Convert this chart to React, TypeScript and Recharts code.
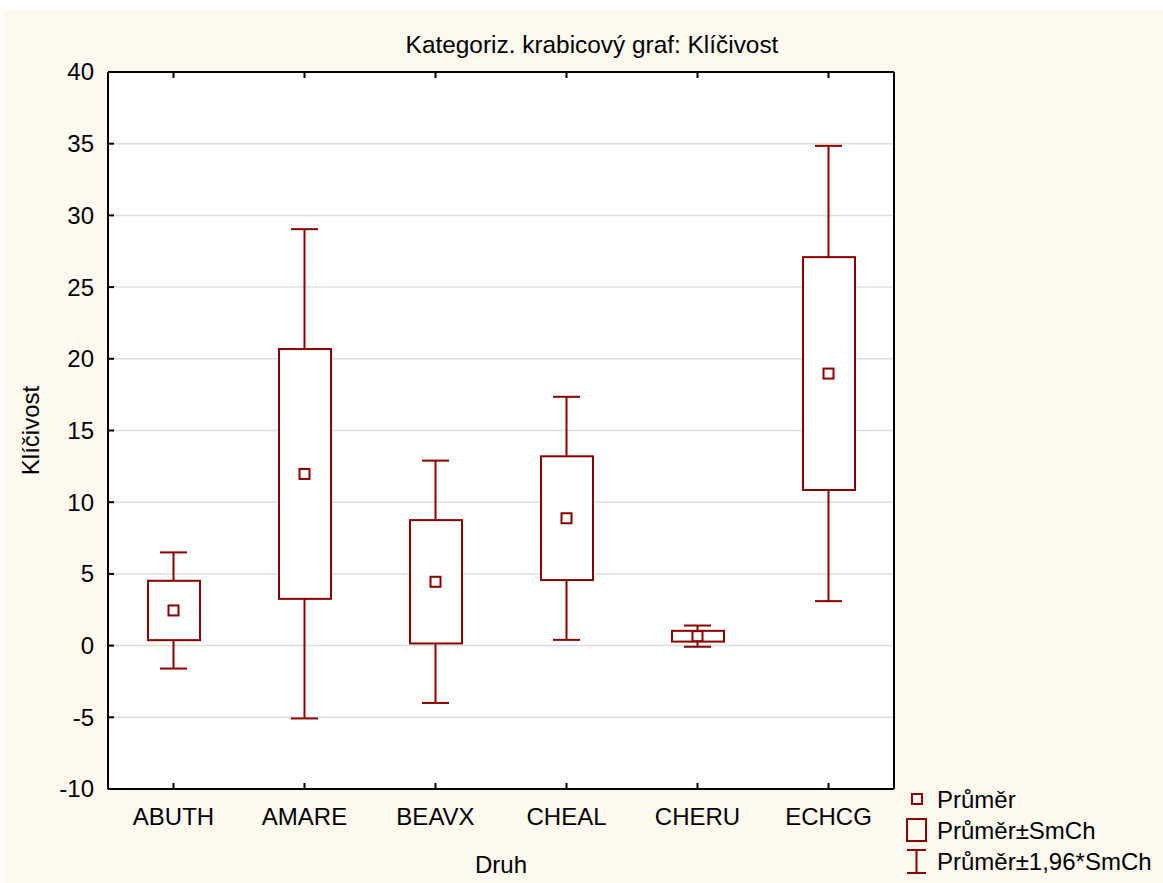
import React from 'react';
import {
  ComposedChart,
  Bar,
  Line,
  XAxis,
  YAxis,
  CartesianGrid,
  Legend,
  Customized,
} from 'recharts';

const species = ['ABUTH', 'AMARE', 'BEAVX', 'CHEAL', 'CHERU', 'ECHCG'];
const means = [2.45, 11.97, 4.45, 8.88, 0.66, 18.97];
const seLow = [0.38, 3.26, 0.15, 4.57, 0.28, 10.85];
const seHigh = [4.52, 20.68, 8.75, 13.2, 1.03, 27.09];
const ciLow = [-1.6, -5.08, -4.0, 0.4, -0.08, 3.1];
const ciHigh = [6.5, 29.04, 12.9, 17.35, 1.4, 34.85];
const yTicks = [-10, -5, 0, 5, 10, 15, 20, 25, 30, 35, 40];

const RED = '#8B0000';
const FONT = '"Liberation Sans", Arial, sans-serif';
const FONT_SIZE = 24;

const data = species.map((name, i) => ({
  name,
  mean: means[i],
  box: [seLow[i], seHigh[i]],
  whisker: [ciLow[i], ciHigh[i]],
}));

const norm = (y: number, h: number) => ({ top: Math.min(y, y + h), h: Math.abs(h) });

// vertical line with a cap at each end
const WhiskerShape = (props: any) => {
  const { x, y, width, height } = props;
  const { top, h } = norm(y, height);
  const cx = x + width / 2;
  return (
    <g stroke={RED} strokeWidth={2} fill="none">
      <line x1={cx} y1={top} x2={cx} y2={top + h} />
      <line x1={x} y1={top} x2={x + width} y2={top} />
      <line x1={x} y1={top + h} x2={x + width} y2={top + h} />
    </g>
  );
};

const BoxShape = (props: any) => {
  const { x, y, width, height } = props;
  const { top, h } = norm(y, height);
  return <rect x={x} y={top} width={width} height={h} fill="#fff" stroke={RED} strokeWidth={2} />;
};

const MeanDot = (props: any) => {
  const { cx, cy, index } = props;
  return (
    <rect key={`m-${index}`} x={cx - 5} y={cy - 5} width={10} height={10} fill="#fff" stroke={RED} strokeWidth={2} />
  );
};

const BottomTick = (props: any) => {
  const { x, y, payload } = props;
  return (
    <g>
      <line x1={x} y1={y} x2={x} y2={y - 6} stroke="#000" strokeWidth={2} />
      <text x={x} y={y + 36} textAnchor="middle" fontFamily={FONT} fontSize={FONT_SIZE} fill="#000">
        {payload.value}
      </text>
    </g>
  );
};

const TopTick = (props: any) => {
  const { x, y } = props;
  return <line x1={x} y1={y} x2={x} y2={y + 6} stroke="#000" strokeWidth={2} />;
};

const LeftTick = (props: any) => {
  const { x, y, payload } = props;
  return (
    <g>
      <line x1={x} y1={y} x2={x + 6} y2={y} stroke="#000" strokeWidth={2} />
      <text x={x - 14} y={y} dy="0.35em" textAnchor="end" fontFamily={FONT} fontSize={FONT_SIZE} fill="#000">
        {payload.value}
      </text>
    </g>
  );
};

const RightTick = (props: any) => {
  const { x, y } = props;
  return <line x1={x} y1={y} x2={x - 6} y2={y} stroke="#000" strokeWidth={2} />;
};

const Title = () => (
  <text x={588} y={43} textAnchor="middle" fontFamily={FONT} fontSize={24.4} fill="#000">
    Kategoriz. krabicový graf: Klíčivost
  </text>
);

const legendRows = [
  { label: 'Průměr', icon: 'mean' },
  { label: 'Průměr±SmCh', icon: 'box' },
  { label: 'Průměr±1,96*SmCh', icon: 'whisker' },
];

const LegendIcon = ({ kind }: { kind: string }) => (
  <svg width={22} height={31} style={{ display: 'block' }}>
    {kind === 'mean' && <rect x={6} y={10} width={10} height={10} fill="none" stroke={RED} strokeWidth={2} />}
    {kind === 'box' && <rect x={1} y={4} width={19} height={22} fill="none" stroke={RED} strokeWidth={2} />}
    {kind === 'whisker' && (
      <g stroke={RED} strokeWidth={2}>
        <line x1={1} y1={4} x2={20} y2={4} />
        <line x1={10.5} y1={4} x2={10.5} y2={27} />
        <line x1={1} y1={27} x2={20} y2={27} />
      </g>
    )}
  </svg>
);

const renderLegend = () => (
  <div style={{ fontFamily: FONT, fontSize: FONT_SIZE, color: '#000' }}>
    {legendRows.map((r) => (
      <div key={r.label} style={{ display: 'flex', alignItems: 'center', height: 31, whiteSpace: 'nowrap' }}>
        <LegendIcon kind={r.icon} />
        <span style={{ marginLeft: 9, lineHeight: '31px' }}>{r.label}</span>
      </div>
    ))}
  </div>
);

export default function App() {
  return (
    <div style={{ position: 'absolute', left: 0, top: 0, width: 1163, height: 883, background: '#fff' }}>
      <div style={{ position: 'absolute', left: 4, top: 10, width: 1159, height: 873, background: '#fdf9ef' }}>
        <ComposedChart
          width={1159}
          height={873}
          data={data}
          margin={{ top: 61, right: 268, bottom: 0, left: 0 }}
        >
          <CartesianGrid
            xAxisId="main"
            yAxisId="main"
            horizontal
            vertical={false}
            stroke="#dedede"
            strokeWidth={1.5}
            fill="#fff"
            fillOpacity={1}
          />
          <XAxis
            dataKey="name"
            xAxisId="main"
            height={94}
            interval={0}
            tickSize={0}
            tickMargin={0}
            tickLine={false}
            axisLine={{ stroke: '#000', strokeWidth: 2 }}
            tick={<BottomTick />}
            label={{
              content: ({ viewBox }: any) => (
                <text
                  x={viewBox.x + viewBox.width / 2}
                  y={viewBox.y + 84}
                  textAnchor="middle"
                  fontFamily={FONT}
                  fontSize={FONT_SIZE}
                  fill="#000"
                >
                  Druh
                </text>
              ),
            }}
          />
          <XAxis
            dataKey="name"
            xAxisId="top"
            orientation="top"
            height={1}
            interval={0}
            tickSize={0}
            tickMargin={0}
            tickLine={false}
            axisLine={{ stroke: '#000', strokeWidth: 2 }}
            tick={<TopTick />}
          />
          <XAxis dataKey="name" xAxisId="whisker" orientation="top" height={0} hide />
          <XAxis dataKey="name" xAxisId="box" orientation="top" height={0} hide />
          <YAxis
            yAxisId="main"
            width={104}
            domain={[-10, 40]}
            ticks={yTicks}
            interval={0}
            tickSize={0}
            tickMargin={0}
            tickLine={false}
            axisLine={{ stroke: '#000', strokeWidth: 2 }}
            tick={<LeftTick />}
            label={{
              content: ({ viewBox }: any) => {
                const cx = viewBox.x + 26;
                const cy = viewBox.y + viewBox.height / 2;
                return (
                  <text
                    x={cx}
                    y={cy}
                    transform={`rotate(-90 ${cx} ${cy})`}
                    textAnchor="middle"
                    dominantBaseline="central"
                    fontFamily={FONT}
                    fontSize={FONT_SIZE}
                    fill="#000"
                  >
                    Klíčivost
                  </text>
                );
              },
            }}
          />
          <YAxis
            yAxisId="right"
            orientation="right"
            width={1}
            domain={[-10, 40]}
            ticks={yTicks}
            interval={0}
            tickSize={0}
            tickMargin={0}
            tickLine={false}
            axisLine={{ stroke: '#000', strokeWidth: 2 }}
            tick={<RightTick />}
          />
          <Bar
            dataKey="whisker"
            xAxisId="whisker"
            yAxisId="main"
            barSize={27}
            shape={<WhiskerShape />}
            isAnimationActive={false}
          />
          <Bar
            dataKey="box"
            xAxisId="box"
            yAxisId="main"
            barSize={52}
            shape={<BoxShape />}
            isAnimationActive={false}
          />
          <Line
            dataKey="mean"
            xAxisId="main"
            yAxisId="main"
            stroke="none"
            dot={<MeanDot />}
            activeDot={false}
            isAnimationActive={false}
          />
          <Legend
            layout="vertical"
            align="center"
            verticalAlign="middle"
            content={renderLegend}
            wrapperStyle={{ left: 902, top: 774, width: 257, height: 100 }}
          />
          <Customized component={Title} />
        </ComposedChart>
      </div>
    </div>
  );
}
